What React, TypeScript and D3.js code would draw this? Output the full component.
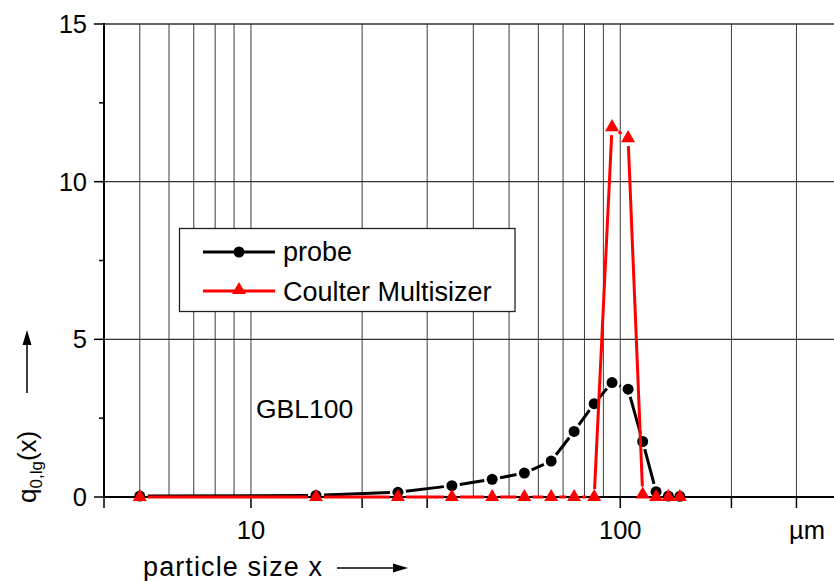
import React from "react";
import * as d3 from "d3";

const sizes = [5, 15, 25, 35, 45, 55, 65, 75, 85, 95, 105, 115, 125, 135, 145];
const probe = [0.03, 0.05, 0.15, 0.36, 0.56, 0.76, 1.14, 2.08, 2.96, 3.63, 3.42, 1.76, 0.17, 0.03, 0.02];
const coulter = [0, 0, 0, 0, 0, 0, 0, 0, 0, 11.73, 11.38, 0.08, 0, 0, 0];

const xGrid = [5, 6, 7, 8, 9, 10, 20, 30, 40, 50, 60, 70, 80, 90, 100, 200, 300];
const xTicks = [4, 10, 20, 30, 100, 200, 300];
const xLabels = [10, 100];
const yMajor = [0, 5, 10, 15];
const yMinor = [2.5, 7.5, 12.5];
const yGrid = [5, 10, 15];

const W = 834;
const H = 581;
const FONT = "'Liberation Sans', Arial, sans-serif";

const x = d3.scaleLog().domain([4, 400]).range([104, 842.6]);
const y = d3.scaleLinear().domain([0, 15]).range([497, 24]);

function gapSegments(pts: [number, number][], gap: number) {
  const segs: string[] = [];
  for (let i = 0; i < pts.length - 1; i++) {
    const [x1, y1] = pts[i];
    const [x2, y2] = pts[i + 1];
    const dx = x2 - x1, dy = y2 - y1;
    const d = Math.hypot(dx, dy);
    if (d <= 2 * gap) continue;
    const ux = dx / d, uy = dy / d;
    segs.push(
      `M${x1 + ux * gap},${y1 + uy * gap}L${x2 - ux * gap},${y2 - uy * gap}`
    );
  }
  return segs.join("");
}

const tri = d3.symbol().type(d3.symbolTriangle).size(85)();

export default function App() {
  const pPts: [number, number][] = sizes.map((s, i) => [x(s), y(probe[i])]);
  const cPts: [number, number][] = sizes.map((s, i) => [x(s), y(coulter[i])]);
  return (
    <svg
      width={W}
      height={H}
      style={{ position: "absolute", left: 0, top: 0, background: "#fff" }}
      fontFamily={FONT}
    >
      {/* grid */}
      {xGrid.map((v) => (
        <line key={"gx" + v} x1={x(v)} x2={x(v)} y1={y(0)} y2={y(15)} stroke="#3a3a3a" strokeWidth={1} />
      ))}
      {yGrid.map((v) => (
        <line key={"gy" + v} x1={104} x2={W} y1={y(v)} y2={y(v)} stroke="#333" strokeWidth={v === 15 ? 1.6 : 1.3} />
      ))}
      {/* axes */}
      <line x1={104} x2={104} y1={y(0) + 1} y2={y(15) - 1} stroke="#000" strokeWidth={2} />
      <line x1={103} x2={W} y1={y(0)} y2={y(0)} stroke="#000" strokeWidth={2} />
      {yMajor.map((v) => (
        <g key={"ym" + v}>
          <line x1={94} x2={104} y1={y(v)} y2={y(v)} stroke="#000" strokeWidth={1.5} />
          <text x={87} y={y(v) + 9} fontSize={25.5} textAnchor="end">{v}</text>
        </g>
      ))}
      {yMinor.map((v) => (
        <line key={"yn" + v} x1={99} x2={104} y1={y(v)} y2={y(v)} stroke="#000" strokeWidth={1.5} />
      ))}
      {xTicks.map((v) => (
        <line key={"xt" + v} x1={x(v)} x2={x(v)} y1={y(0)} y2={y(0) + 11} stroke="#000" strokeWidth={1.5} />
      ))}
      {xLabels.map((v) => (
        <text key={"xl" + v} x={x(v)} y={539} fontSize={25.5} textAnchor="middle">{v}</text>
      ))}
      <text x={807} y={539} fontSize={25.5} textAnchor="middle">µm</text>

      {/* axis titles */}
      <text x={143} y={576} fontSize={27} textLength={179} lengthAdjust="spacing">particle size x</text>
      <line x1={337} x2={395} y1={568} y2={568} stroke="#000" strokeWidth={1.5} />
      <path d="M408,568 L393,563.5 L393,572.5 Z" fill="#000" />

      <text transform="translate(36,503) rotate(-90)" fontSize={26}>
        q<tspan fontSize={17} dy={6}>0,lg</tspan><tspan dy={-6}>(x)</tspan>
      </text>
      <line x1={27} x2={27} y1={393} y2={344} stroke="#000" strokeWidth={1.5} />
      <path d="M27,330 L22.5,345 L31.5,345 Z" fill="#000" />

      <text x={256} y={418} fontSize={26.5}>GBL100</text>

      {/* series */}
      <path d={gapSegments(pPts, 8)} stroke="#000" strokeWidth={3} fill="none" strokeLinecap="butt" />
      {pPts.map(([px, py], i) => (
        <circle key={"pc" + i} cx={px} cy={py} r={5.5} fill="#000" />
      ))}
      <path d={gapSegments(cPts, 8)} stroke="#ff0000" strokeWidth={3} fill="none" strokeLinecap="butt" />
      {cPts.map(([px, py], i) => (
        <path key={"ct" + i} d={tri} transform={`translate(${px},${py})`} fill="#ff0000" />
      ))}

      {/* legend */}
      <rect x={179.5} y={228.5} width={335.5} height={83} fill="#fff" stroke="#222" strokeWidth={1.3} />
      <line x1={203} x2={275} y1={252} y2={252} stroke="#000" strokeWidth={3} />
      <circle cx={239} cy={252} r={5.5} fill="#000" />
      <text x={283} y={261} fontSize={27}>probe</text>
      <line x1={203} x2={275} y1={291} y2={291} stroke="#ff0000" strokeWidth={3} />
      <path d={tri} transform="translate(239,290)" fill="#ff0000" />
      <text x={283} y={301} fontSize={27}>Coulter Multisizer</text>
    </svg>
  );
}
